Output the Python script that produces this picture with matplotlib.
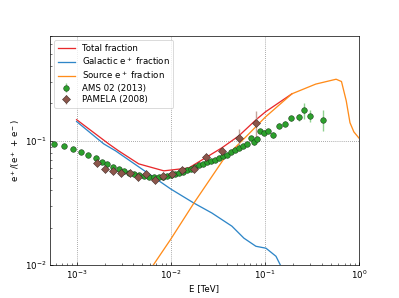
import numpy as np
import matplotlib
matplotlib.use("Agg")
import matplotlib.pyplot as plt

# Model curves
total_E = [1.0e-3, 2.19e-3, 2.8e-3, 4.57e-3, 8.44e-3, 1.55e-2, 3.49e-2, 5.28e-2, 8.22e-2, 0.1016, 0.1936]
total_f = [0.148, 0.0946, 0.083, 0.0653, 0.0574, 0.0605, 0.0879, 0.1097, 0.150, 0.1714, 0.239]

gal_E = [1.0e-3, 1.94e-3, 2.6e-3, 1.0e-2, 1.76e-2, 2.73e-2, 4.46e-2, 5.98e-2, 8.02e-2, 0.1026, 0.131, 0.148, 0.16]
gal_f = [0.143, 0.0946, 0.083, 0.041, 0.0316, 0.0263, 0.0206, 0.0165, 0.0142, 0.0137, 0.0118, 0.0098, 0.0085]

src_E = [0.005, 0.0065, 0.01, 0.0176, 0.0366, 0.0676, 0.1016, 0.1936, 0.346, 0.57, 0.65, 0.73, 0.80, 0.88, 1.0]
src_f = [0.00745, 0.01, 0.0162, 0.0316, 0.0716, 0.114, 0.156, 0.239, 0.286, 0.313, 0.30, 0.21, 0.14, 0.118, 0.105]

# AMS 02 (2013)
ams_E = [5.79e-4, 7.33e-4, 9.07e-4, 1.103e-3, 1.325e-3, 1.593e-3, 1.845e-3, 2.111e-3, 2.445e-3, 2.798e-3,
         3.162e-3, 3.574e-3, 4.04e-3, 4.566e-3, 5.16e-3, 5.83e-3, 6.59e-3, 7.45e-3, 8.22e-3, 9.07e-3,
         1.0e-2, 1.103e-2, 1.217e-2, 1.342e-2, 1.48e-2, 1.633e-2, 1.8e-2, 1.986e-2, 2.19e-2, 2.415e-2,
         2.665e-2, 2.94e-2, 3.24e-2, 3.575e-2, 3.94e-2, 4.35e-2, 4.8e-2, 5.29e-2, 5.83e-2, 6.43e-2,
         7.19e-2, 7.73e-2, 8.28e-2, 8.96e-2, 9.76e-2, 0.1076, 0.1216, 0.1409, 0.1616, 0.1877,
         0.2283, 0.26, 0.299, 0.414]
ams_f = [0.0946, 0.0911, 0.0862, 0.0815, 0.0771, 0.0723, 0.0677, 0.0649, 0.0617, 0.0592,
         0.0568, 0.0552, 0.0539, 0.0529, 0.0519, 0.0513, 0.0508, 0.0510, 0.0514, 0.0522,
         0.0529, 0.0537, 0.0547, 0.0566, 0.0581, 0.0597, 0.0611, 0.0634, 0.0653, 0.0677,
         0.0690, 0.0703, 0.0723, 0.0750, 0.0771, 0.0808, 0.0838, 0.0878, 0.0911, 0.0946,
         0.1057, 0.0972, 0.1032, 0.1204, 0.1167, 0.1204, 0.1112, 0.1328, 0.1379, 0.1516,
         0.1544, 0.1762, 0.159, 0.1477]
ams_err = [0.002, 0.002, 0.002, 0.002, 0.002, 0.002, 0.002, 0.002, 0.002, 0.002,
           0.002, 0.002, 0.002, 0.002, 0.002, 0.002, 0.002, 0.002, 0.002, 0.002,
           0.002, 0.002, 0.002, 0.002, 0.002, 0.002, 0.002, 0.002, 0.002, 0.002,
           0.002, 0.002, 0.002, 0.002, 0.002, 0.002, 0.002, 0.003, 0.003, 0.003,
           0.004, 0.004, 0.004, 0.005, 0.005, 0.005, 0.006, 0.007, 0.007, 0.008,
           0.009, 0.027, 0.018, 0.028]

# PAMELA (2008)
pam_E = [1.64e-3, 2.01e-3, 2.43e-3, 2.99e-3, 3.71e-3, 4.51e-3, 5.49e-3, 6.76e-3, 8.32e-3, 1.026e-2,
         1.32e-2, 1.76e-2, 2.36e-2, 3.49e-2, 5.29e-2, 8.12e-2]
pam_f = [0.0669, 0.0594, 0.0570, 0.0547, 0.0547, 0.0513, 0.0542, 0.0482, 0.0522, 0.0545,
         0.0583, 0.0591, 0.0736, 0.0823, 0.1063, 0.138]
pam_err = [0.001, 0.001, 0.001, 0.001, 0.001, 0.001, 0.001, 0.001, 0.001, 0.0015,
           0.002, 0.002, 0.003, 0.005, 0.018, 0.037]

DPI = 62.35
fig = plt.figure(figsize=(399 / DPI, 298 / DPI), dpi=DPI)
ax = fig.add_subplot(111)

ax.plot(total_E, total_f, color='#e8292c', lw=1.5, label='Total fraction')
ax.plot(gal_E, gal_f, color='#2e86c8', lw=1.5, label='Galactic e$^+$ fraction')
ax.plot(src_E, src_f, color='#ff8c1a', lw=1.5, label='Source e$^+$ fraction')

ax.errorbar(ams_E, ams_f, yerr=ams_err, fmt='o', color='#2ca02c', ms=6.5, mec='#1a3a1a', mew=0.6,
            ecolor='#8fd18f', elinewidth=1.6, label='AMS 02 (2013)')
ax.errorbar(pam_E, pam_f, yerr=pam_err, fmt='D', color='#8c564b', ms=6.5, mec='#3a2a25', mew=0.6,
            ecolor='#c4a49c', elinewidth=1.6, label='PAMELA (2008)')

ax.set_xscale('log')
ax.set_yscale('log')
ax.set_xlim(5.2e-4, 1.0)
ax.set_ylim(0.01, 0.7)
ax.grid(True, which='major', linestyle=':', color='gray', linewidth=0.9)
ax.tick_params(which='both', direction='in')
ax.set_xlabel('E [TeV]')
ax.set_ylabel('e$^+$/(e$^+$ + e$^-$)')
ax.legend(loc='upper left', labelspacing=0.3)

fig.savefig('out.png', dpi=DPI)
